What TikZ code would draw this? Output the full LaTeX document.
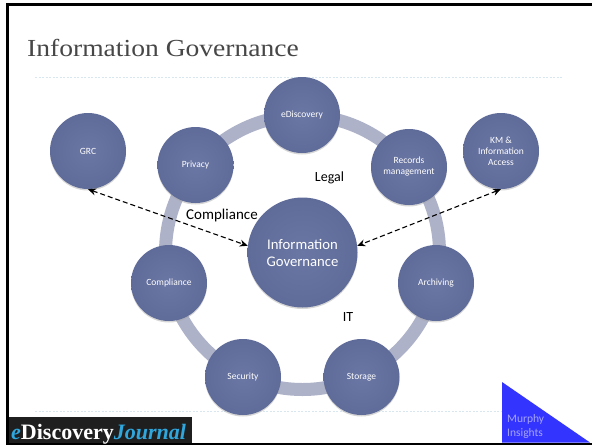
\documentclass[tikz,border=0pt]{standalone}
\usepackage{fontspec}
\setmainfont{Carlito}
\newfontfamily\titlefont[FakeStretch=1.125]{Liberation Serif}
\newfontfamily\logofont{Liberation Serif}
\usetikzlibrary{arrows.meta,shadows}
\definecolor{ringc}{HTML}{ADB2C8}
\definecolor{ballc}{HTML}{5F6B98}
\definecolor{ballm}{HTML}{6A76A4}
\definecolor{ruleb}{HTML}{D8E6F0}
\definecolor{logoc}{HTML}{2FA6DC}
\definecolor{triblue}{HTML}{3434FF}
\tikzset{
  x=1pt,y=-1pt,
  ball/.style={circle,minimum size=#1,inner sep=0pt,align=center,text=white,
    inner color=ballm,outer color=ballc,
    general shadow={shadow xshift=0pt,shadow yshift=-1.5pt,fill=black!35,opacity=.45},
    font=\fontsize{9.5}{11}\selectfont},
  ball/.default=76pt,
  dblarrow/.style={dash pattern=on 5pt off 3pt,line width=1.1pt,{Stealth[length=8pt,width=7pt]}-{Stealth[length=8pt,width=7pt]}},
  label/.style={text=black,font=\fontsize{14}{16}\selectfont,inner sep=0pt},
  rulerb/.style={ruleb,line width=.7pt,dash pattern=on 2pt off 1.5pt},
}
\begin{document}
\begin{tikzpicture}
\useasboundingbox (0,0) rectangle (592,445);
\fill[white] (0,0) rectangle (592,445);
% frame
\fill[black] (6,3) rectangle (592,5.5);
\fill[black] (6,3) rectangle (9,445);
\fill[black] (6,443) rectangle (592,445);
% rules
\coordinate (r1a) at (35,77);\coordinate (r1b) at (562,77);
\coordinate (r2a) at (35,411);\coordinate (r2b) at (502,411);
\draw[rulerb] (r1a) -- (r1b);
\draw[rulerb] (r2a) -- (r2b);
% title
\node[anchor=base west,inner sep=0pt,text=black!72,font=\titlefont\fontsize{24.5}{28}\selectfont] (title) at (27,56) {Information Governance};
% ring
\coordinate (ringc) at (302.5,252.5);
\draw[ringc,line width=13pt] (ringc) circle[radius=137];
% satellites
\node[ball] (grc) at (88,151) {GRC};
\node[ball] (privacy) at (195.5,165) {Privacy};
\node[ball] (edisc) at (302,115) {eDiscovery};
\node[ball] (records) at (409,167) {Records\\management};
\node[ball] (km) at (501,151) {KM \&\\Information\\Access};
\node[ball] (compl) at (169,283) {Compliance};
\node[ball] (security) at (243,377) {Security};
\node[ball] (storage) at (361.5,377) {Storage};
\node[ball] (archiving) at (436,283) {Archiving};
\node[ball=110pt,font=\fontsize{14.7}{17}\selectfont] (ig) at (302.5,252.5) {Information\\Governance};
% labels
\node[label] (legal) at (329.5,178) {Legal};
\node[label] (it) at (348,317) {IT};
\node[label,font=\fontsize{15}{17}\selectfont] (cp) at (222,215) {Compliance};
% arrows
\draw[dblarrow] (grc.south) -- (ig.173);
\draw[dblarrow] (km.south) -- (ig.7);
% logo
\node[anchor=north west,fill=black!88,minimum width=183pt,minimum height=26pt,inner sep=0pt] (logo) at (9,417) {};
\node[anchor=base west,inner sep=0pt,font=\logofont\bfseries\fontsize{22}{24}\selectfont,text=white] (logot) at (11,439)
  {\textcolor{logoc}{\textit{e}}Discovery\textcolor{logoc}{\textit{Journal}}};
% triangle
\fill[triblue] (502,382) -- (502,442.5) -- (590,442.5) -- cycle;
\node[anchor=north west,inner sep=0pt,align=left,text=triblue!45!white,font=\fontsize{11.5}{14.5}\selectfont] (mi) at (507,414) {Murphy\\Insights};
\end{tikzpicture}
\end{document}
